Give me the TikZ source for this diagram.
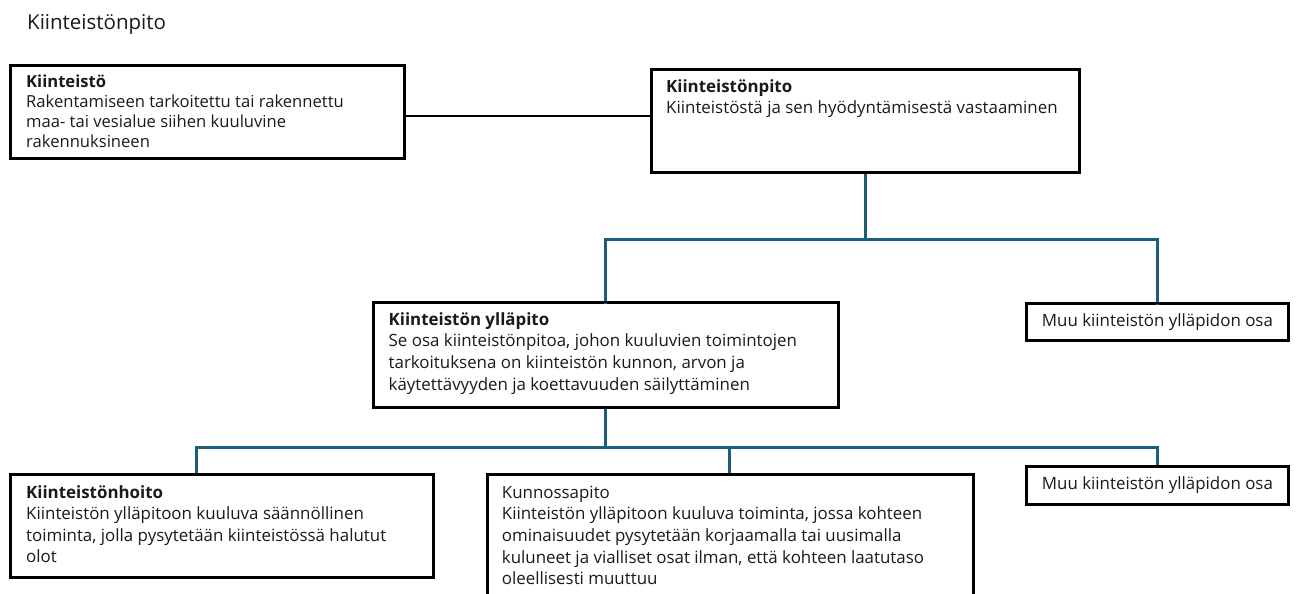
\documentclass[tikz,border=0pt]{standalone}
\usepackage{fontspec}
\setmainfont{Open Sans}
\definecolor{teal1}{HTML}{1D5D79}
\definecolor{ink}{HTML}{1A1A1A}
\newcommand{\lines}[1]{\begin{tabular}[t]{@{}l@{}}#1\end{tabular}}
\begin{document}
\begin{tikzpicture}[x=1pt,y=1pt,
  box/.style={draw=black, line width=1.8pt, fill=white, rectangle, inner sep=0pt, anchor=north west},
  txt/.style={anchor=base west, inner sep=0pt, font=\fontsize{16.9}{21.6}\selectfont, text=ink},
  ctxt/.style={align=center, inner sep=0pt, font=\fontsize{16.9}{21.6}\selectfont, text=ink},
  tline/.style={draw=teal1, line width=3pt},
  kline/.style={draw=black, line width=1.5pt}]
\useasboundingbox (0,0) rectangle (1296,-594);
\clip (0,0) rectangle (1296,-594);
\fill[white] (0,0) rectangle (1296,-594);

\node[anchor=base west, inner sep=0pt, font=\fontsize{20.5}{24}\selectfont, text=ink] (title) at (27,-30) {Kiinteistönpito};

% boxes
\node[box, minimum width=393, minimum height=92] (b1) at (10,-65) {};
\node[box, minimum width=427, minimum height=102] (b2) at (651,-69) {};
\node[box, minimum width=464, minimum height=104] (b3) at (373,-302) {};
\node[box, minimum width=261, minimum height=36] (m1) at (1026,-303) {};
\node[box, minimum width=422, minimum height=102] (b4) at (10,-474) {};
\node[box, minimum width=485, minimum height=140] (b5) at (487,-474) {};
\node[box, minimum width=261, minimum height=37] (m2) at (1026,-466) {};

% texts
\node[txt, font=\fontsize{16.6}{20}\selectfont] (t1) at (26,-87.3) {\lines{\textbf{Kiinteistö}\\Rakentamiseen tarkoitettu tai rakennettu\\maa- tai vesialue siihen kuuluvine\\rakennuksineen}};
\node[txt] (t2) at (666,-92.3) {\lines{\textbf{Kiinteistönpito}\\Kiinteistöstä ja sen hyödyntämisestä vastaaminen}};
\node[txt] (t3) at (388.5,-325.3) {\lines{\textbf{Kiinteistön ylläpito}\\Se osa kiinteistönpitoa, johon kuuluvien toimintojen\\tarkoituksena on kiinteistön kunnon, arvon ja\\käytettävyyden ja koettavuuden säilyttäminen}};
\node[ctxt] (tm1) at (m1.center) {Muu kiinteistön ylläpidon osa};
\node[txt] (t4) at (26,-498) {\lines{\textbf{Kiinteistönhoito}\\Kiinteistön ylläpitoon kuuluva säännöllinen\\toiminta, jolla pysytetään kiinteistössä halutut\\olot}};
\node[txt] (t5) at (501.7,-498.3) {\lines{Kunnossapito\\Kiinteistön ylläpitoon kuuluva toiminta, jossa kohteen\\ominaisuudet pysytetään korjaamalla tai uusimalla\\kuluneet ja vialliset osat ilman, että kohteen laatutaso\\oleellisesti muuttuu}};
\node[ctxt] (tm2) at (m2.center) {Muu kiinteistön ylläpidon osa};

% connectors
\coordinate (bus1) at (865,-239);
\coordinate (bus2) at (605,-447);
\draw[kline] (b1.east |- 0,-116) -- (b2.west |- 0,-116);
\draw[tline] (b2.south -| bus1) -- (bus1);
\draw[tline, line cap=rect] (b3.north -| bus2) -- (bus2 |- bus1) -- (m1.north |- bus1) -- (m1.north);
\draw[tline] (bus1) -- (bus2 |- bus1);
\draw[tline] (b3.south -| bus2) -- (bus2);
\draw[tline] (196,-474) -- (196,-447) -- (m2.north |- bus2) -- (m2.north);
\draw[tline] (729,-447) -- (729,-474);

% redraw box borders on top
\foreach \n in {b1,b2,b3,m1,b4,b5,m2}{\draw[black, line width=1.8pt] (\n.north west) rectangle (\n.south east);}
\end{tikzpicture}
\end{document}
